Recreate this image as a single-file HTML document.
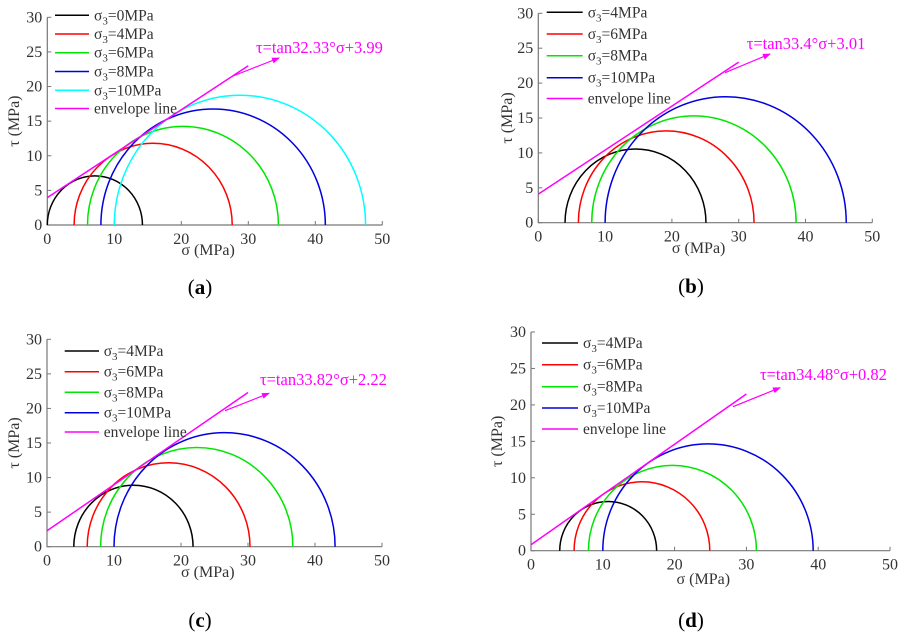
<!DOCTYPE html>
<html><head><meta charset="utf-8"><style>
body{margin:0;background:#fff}
svg{display:block;font-family:"Liberation Serif",serif}
</style></head><body>
<svg id="fig" width="905" height="643" viewBox="0 0 905 643"></svg>
<script>
// Panel data
const panelLabels = ["a","b","c","d"];
const sigma3A = [0,4,6,8,10];
const sigma1A = [14.2,27.6,34.5,41.5,47.5];
const sigma3B = [4,6,8,10];
const sigma1B = [25.1,32.3,38.6,46.1];
const sigma3C = [4,6,8,10];
const sigma1C = [21.8,30.3,36.7,43.0];
const sigma3D = [4,6,8,10];
const sigma1D = [17.5,24.9,31.4,39.3];
const envelopeStartTau = [3.95,4.1,2.3,0.82];   // τ at σ=0 as drawn
const envelopeEndTau = [23.0,23.0,22.3,21.5];   // τ at σ=30 as drawn
const envelopeEndSigma = [30,30,30,30];
const equationLabels = ["τ=tan32.33°σ+3.99","τ=tan33.4°σ+3.01","τ=tan33.82°σ+2.22","τ=tan34.48°σ+0.82"];
const xTicks = [0,10,20,30,40,50];
const yTicks = [0,5,10,15,20,25,30];

const NS="http://www.w3.org/2000/svg";
const svg=document.getElementById('fig');
function mk(tag,attrs,parent){const e=document.createElementNS(NS,tag);for(const k in attrs)e.setAttribute(k,attrs[k]);(parent||svg).appendChild(e);return e;}

const layouts=[
 {x0:47.3,x1:382.3,y0:225,y1:17.3,leg:{x1:55,x2:89,tx:94,rows:[15.3,34,52.7,71.5,90.3,108.5]},
  eq:{tx:256,ty:53,ax:233,ay:76,hx:279,hy:58},ytx:14,xty:255,lab:{x:200,y:294}},
 {x0:538.3,x1:872.3,y0:222.7,y1:13.3,leg:{x1:546.7,x2:582.7,tx:587.7,rows:[12.3,34,55.7,77.7,98.5]},
  eq:{tx:746.7,ty:49,ax:725,ay:72.7,hx:770,hy:54},ytx:507,xty:253,lab:{x:691,y:293}},
 {x0:47,x1:382,y0:546.7,y1:339.3,leg:{x1:64.7,x2:99,tx:103.7,rows:[351,371.7,392.3,412.7,432]},
  eq:{tx:260,ty:385,ax:225,ay:410.7,hx:269,hy:393.3},ytx:14,xty:577,lab:{x:200,y:627}},
 {x0:531,x1:890,y0:550.7,y1:332,leg:{x1:542,x2:578,tx:583,rows:[343,364.7,386.7,408,429]},
  eq:{tx:760,ty:380,ax:733,ay:406.7,hx:780,hy:387.7},ytx:497,xty:584,lab:{x:691,y:627}}
];
const s3s=[sigma3A,sigma3B,sigma3C,sigma3D];
const s1s=[sigma1A,sigma1B,sigma1C,sigma1D];
const colorsA=["#000","#ff0000","#00e600","#0000e0","#00ffff"];
const colorsB=["#000","#ff0000","#00e600","#0000e0"];

mk('defs',{}).innerHTML='<marker id="ah" markerWidth="8" markerHeight="6" refX="7" refY="3" orient="auto" markerUnits="userSpaceOnUse"><path d="M0,0 L8,3 L0,6 z" fill="#ff00ff"/></marker>';

layouts.forEach((L,p)=>{
 const g=mk('g',{});
 
 
 const X=v=>L.x0+(L.x1-L.x0)*v/50;
 const Y=v=>L.y0+(L.y1-L.y0)*v/30;
 const ax=mk('path',{d:`M${L.x0},${L.y1} L${L.x0},${L.y0} L${L.x1},${L.y0}`,fill:'none',stroke:'#777','stroke-width':1.2},g);
 
 
 xTicks.forEach(t=>{
  mk('line',{x1:X(t),x2:X(t),y1:L.y0,y2:L.y0-4,stroke:'#777'},g);
  const tx=mk('text',{x:X(t),y:L.y0+19,'text-anchor':'middle','font-size':16,fill:'#333'},g);
  tx.textContent=t;
  
  
 });
 yTicks.forEach(t=>{
  mk('line',{x1:L.x0,x2:L.x0+4,y1:Y(t),y2:Y(t),stroke:'#777'},g);
  const tx=mk('text',{x:L.x0-5,y:Y(t)+5,'text-anchor':'end','font-size':16,fill:'#333'},g);
  tx.textContent=t;
  
  
 });
 const yt=mk('text',{x:0,y:0,'font-size':16,fill:'#333','text-anchor':'middle',transform:`translate(${L.ytx+5},${Y(15)}) rotate(-90)`},g);
 yt.textContent='τ (MPa)';
 
 
 const xt=mk('text',{x:X(24),y:L.xty,'font-size':16,fill:'#333','text-anchor':'middle'},g);
 xt.textContent='σ (MPa)';
 
 
 const s3=s3s[p], s1=s1s[p], cols=p===0?colorsA:colorsB;
 s3.forEach((a,i)=>{
  const b=s1[i], c=(a+b)/2, r=(b-a)/2;
  const rx=X(c+r)-X(c), ry=Y(0)-Y(r);
  const path=mk('path',{d:`M${X(a)},${Y(0)} A${rx},${ry} 0 0 1 ${X(b)},${Y(0)}`,fill:'none',stroke:cols[i],'stroke-width':1.5},g);
  
  
 });
 const env=mk('line',{x1:X(0),y1:Y(envelopeStartTau[p]),x2:X(envelopeEndSigma[p]),y2:Y(envelopeEndTau[p]),stroke:'#ff00ff','stroke-width':1.5},g);
 
 
 const labels=s3.map(v=>v).concat(['env']);
 labels.forEach((v,i)=>{
  const y=L.leg.rows[i];
  const col=v==='env'?'#ff00ff':cols[i];
  mk('line',{x1:L.leg.x1,x2:L.leg.x2,y1:y,y2:y,stroke:col,'stroke-width':1.5},g);
  const t=mk('text',{x:L.leg.tx,y:y+5,'font-size':15.5,fill:'#333'},g);
  if(v==='env'){t.textContent='envelope line';}
  else t.innerHTML=`σ<tspan font-size="11" dy="4">3</tspan><tspan dy="-4">=${v}MPa</tspan>`;
  
  
 });
 const ar=mk('line',{x1:L.eq.ax,y1:L.eq.ay,x2:L.eq.hx,y2:L.eq.hy,stroke:'#ff00ff','stroke-width':1.2,'marker-end':'url(#ah)'},g);
 
 
 const eq=mk('text',{x:L.eq.tx,y:L.eq.ty,'font-size':16.5,fill:'#ff00ff'},g);
 eq.textContent=equationLabels[p];
 
 
 const lb=mk('text',{x:L.lab.x,y:L.lab.y,'font-size':21,fill:'#000','text-anchor':'middle'},g);
 lb.innerHTML=`(<tspan font-weight="bold">${panelLabels[p]}</tspan>)`;
 
 
});
</script>
</body></html>
